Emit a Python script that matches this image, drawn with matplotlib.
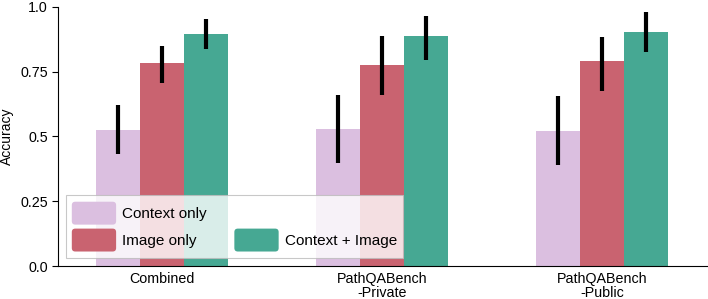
import matplotlib
matplotlib.use("Agg")
import matplotlib.pyplot as plt
import numpy as np
from matplotlib.patches import FancyBboxPatch, Rectangle
from matplotlib.legend_handler import HandlerPatch

plt.rcParams['font.family'] = ['Liberation Sans', 'DejaVu Sans']

# data
groups = ['Combined', 'PathQABench\n-Private', 'PathQABench\n-Public']
series = ['Context only', 'Image only', 'Context + Image']
colors = ['#dbbfe0', '#c96370', '#46a893']

means = [
    [0.525, 0.529, 0.521],   # context only
    [0.784, 0.776, 0.790],   # image only
    [0.896, 0.888, 0.904],   # context + image
]
err_low = [
    [0.432, 0.398, 0.390],
    [0.707, 0.660, 0.676],
    [0.838, 0.795, 0.826],
]
err_high = [
    [0.620, 0.660, 0.656],
    [0.849, 0.888, 0.884],
    [0.954, 0.965, 0.980],
]


# rounded legend patches, a fixed height centred in the row
class RoundHandler(HandlerPatch):
    def create_artists(self, legend, orig_handle, xdescent, ydescent,
                       width, height, fontsize, trans):
        h = 1.5 * fontsize
        cy = -ydescent + height / 2.0
        p = FancyBboxPatch((-xdescent, cy - h / 2.0), width, h,
                           boxstyle="round,pad=0,rounding_size=2.5",
                           facecolor=orig_handle.get_facecolor(),
                           edgecolor='none', transform=trans)
        return [p]


fig = plt.figure(figsize=(7.08, 2.99), dpi=100)
ax = fig.add_axes([0.082, 0.11, 0.917, 0.867])

x = np.arange(len(groups))
w = 0.2
for i, s in enumerate(series):
    pos = x + (i - 1) * w
    m = np.array(means[i])
    lo = m - np.array(err_low[i])
    hi = np.array(err_high[i]) - m
    ax.bar(pos, m, width=w, color=colors[i], label=s, zorder=1)
    ax.errorbar(pos, m, yerr=[lo, hi], fmt='none', ecolor='black',
                elinewidth=3, capsize=0, zorder=2)

ax.set_xlim(-0.473, 2.477)
ax.set_ylim(0, 1.0)
ax.set_yticks([0, 0.25, 0.5, 0.75, 1.0])
ax.set_yticklabels(['0.0', '0.25', '0.5', '0.75', '1.0'], fontsize=10.3)
ax.set_xticks(x)
ax.set_xticklabels(groups, fontsize=10.3, linespacing=1.0)
ax.tick_params(axis='x', length=0, pad=4)
ax.tick_params(axis='y', length=4)
ax.set_ylabel('Accuracy', fontsize=10)
ax.spines['top'].set_visible(False)
ax.spines['right'].set_visible(False)

hs = [Rectangle((0, 0), 1, 1, facecolor=c) for c in colors]
blank = Rectangle((0, 0), 1, 1, facecolor='none', edgecolor='none')
handles = [hs[0], hs[1], blank, hs[2]]
labels = [series[0], series[1], '', series[2]]
hmap = {h: RoundHandler() for h in hs}
leg = ax.legend(handles, labels, ncol=2, loc='lower left', fontsize=11,
                handlelength=2.9, handleheight=2.1, labelspacing=0.15,
                columnspacing=1.8, handletextpad=0.4, borderpad=0.4,
                framealpha=0.8, fancybox=False, edgecolor='#bbbbbb',
                handler_map=hmap)
leg.get_frame().set_linewidth(0.8)

fig.savefig('out.png', dpi=100)
